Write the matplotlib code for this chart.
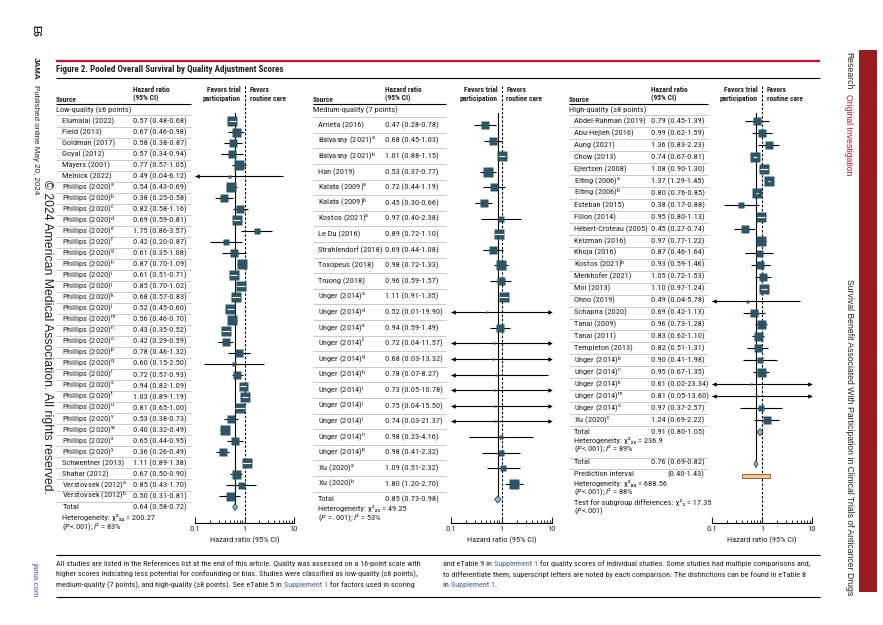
import matplotlib
matplotlib.use('Agg')
import matplotlib.pyplot as plt
import numpy as np
from matplotlib import font_manager
from matplotlib.patches import Rectangle, Polygon
from matplotlib.ticker import LogLocator, NullFormatter

# ---------- font choice: prefer a narrow / condensed sans ----------
ttf = font_manager.fontManager.ttflist
FONT, STRETCH = 'Liberation Sans', 'normal'
prefs = [('Liberation Sans Narrow', None), ('Roboto Condensed', None), ('Noto Sans', 'semi-condensed'),
         ('Noto Sans', 'condensed'), ('DejaVu Sans', 'condensed'), ('Open Sans', 'condensed'),
         ('Noto Sans Condensed', None), ('Open Sans Condensed', None)]
found = False
for nm, st in prefs:
    for f in ttf:
        if f.name == nm and (st is None or f.stretch == st) and f.style == 'normal':
            FONT, STRETCH = nm, (f.stretch if st is None else st)
            found = True
            break
    if found:
        break
SIDE_FONT = 'Liberation Sans'
plt.rcParams['font.family'] = [FONT, 'DejaVu Sans']
plt.rcParams['font.stretch'] = STRETCH
plt.rcParams['mathtext.fontset'] = 'custom'
plt.rcParams['mathtext.rm'] = FONT
plt.rcParams['mathtext.it'] = FONT + ':italic'
plt.rcParams['mathtext.bf'] = FONT + ':bold'


def S(letter):
    return r'$^{\mathrm{' + letter + '}}$'


SUBD = str.maketrans('0123456789', '\u2080\u2081\u2082\u2083\u2084\u2085\u2086\u2087\u2088\u2089')


def chi2(df):
    return '\u03c7\u00b2' + str(df).translate(SUBD)


# ---------------- data: low quality ----------------
low_sources = ['Elumalai (2022)', 'Field (2013)', 'Goldman (2017)', 'Goyal (2012)', 'Mayers (2001)',
               'Melnick (2022)'] + ['Phillips (2020)' + S(c) for c in 'abcdefghijklmnopqrstuvwxy'] + \
              ['Schwentner (2013)', 'Shahar (2012)', 'Verstovsek (2012)' + S('a'), 'Verstovsek (2012)' + S('b')]
low_hr = [0.57, 0.67, 0.58, 0.57, 0.77, 0.49, 0.54, 0.38, 0.82, 0.69, 1.75, 0.42, 0.61, 0.87, 0.61, 0.85,
          0.68, 0.52, 0.56, 0.43, 0.42, 0.78, 0.60, 0.72, 0.94, 1.03, 0.81, 0.53, 0.40, 0.65, 0.36,
          1.11, 0.67, 0.85, 0.50]
low_lo = [0.48, 0.46, 0.38, 0.34, 0.57, 0.04, 0.43, 0.25, 0.58, 0.59, 0.86, 0.20, 0.35, 0.70, 0.51, 0.70,
          0.57, 0.45, 0.46, 0.35, 0.29, 0.46, 0.15, 0.57, 0.82, 0.89, 0.65, 0.38, 0.32, 0.44, 0.26,
          0.89, 0.50, 0.43, 0.31]
low_hi = [0.68, 0.98, 0.87, 0.94, 1.05, 6.12, 0.69, 0.58, 1.16, 0.81, 3.57, 0.87, 1.08, 1.09, 0.71, 1.02,
          0.83, 0.60, 0.70, 0.52, 0.59, 1.32, 2.50, 0.93, 1.09, 1.19, 1.00, 0.73, 0.49, 0.95, 0.49,
          1.38, 0.90, 1.70, 0.81]
low_weight = [10, 9, 8.5, 8, 9.5, 3, 10, 8.5, 8.5, 10, 6.5, 6.5, 7.5, 9.5, 10, 9.5, 9.5, 9.5, 9.5, 9.5,
              8.5, 8, 4, 8.5, 9, 9.5, 10, 8.5, 9.5, 8, 8, 10, 9, 7, 9]
low_total = (0.64, 0.58, 0.72)
low_het = (34, '200.27', '<.001', 83)

# ---------------- data: medium quality ----------------
med_sources = ['Arrieta (2016)', 'Balyasny (2021)' + S('a'), 'Balyasny (2021)' + S('b'), 'Han (2019)',
               'Kalata (2009)' + S('a'), 'Kalata (2009)' + S('b'), 'Kostos (2021)' + S('a'), 'Le Du (2016)',
               'Strahlendorf (2018)', 'Toxopeus (2018)', 'Truong (2018)'] + \
              ['Unger (2014)' + S(c) for c in 'adefghijlnp'] + ['Xu (2020)' + S('a'), 'Xu (2020)' + S('b')]
med_hr = [0.47, 0.68, 1.01, 0.53, 0.72, 0.45, 0.97, 0.89, 0.69, 0.98, 0.96, 1.11, 0.52, 0.94, 0.72, 0.68,
          0.78, 0.73, 0.75, 0.74, 0.98, 0.98, 1.09, 1.80]
med_lo = [0.28, 0.45, 0.88, 0.37, 0.44, 0.30, 0.40, 0.72, 0.44, 0.72, 0.59, 0.91, 0.01, 0.59, 0.04, 0.03,
          0.07, 0.05, 0.04, 0.03, 0.23, 0.41, 0.51, 1.20]
med_hi = [0.78, 1.03, 1.15, 0.77, 1.19, 0.66, 2.38, 1.10, 1.08, 1.33, 1.57, 1.35, 19.90, 1.49, 11.57, 13.32,
          8.27, 10.78, 15.50, 21.37, 4.16, 2.32, 2.32, 2.70]
med_weight = [7.5, 8, 9.5, 9.5, 8.5, 8, 5.5, 9.5, 8, 9.5, 8.5, 10, 2, 8.5, 2.5, 2.5, 2.5, 2.5, 2.5, 2.5,
              5, 6, 6.5, 9.5]
med_total = (0.85, 0.73, 0.98)
med_het = (23, '49.25', ' = .001', 53)

# ---------------- data: high quality ----------------
high_sources = ['Abdel-Rahman (2019)', 'Abu-Hejleh (2016)', 'Aung (2021)', 'Chow (2013)', 'Ejlertsen (2008)',
                'Elting (2006)' + S('a'), 'Elting (2006)' + S('b'), 'Esteban (2015)', 'Filion (2014)',
                'Hébert-Croteau (2005)', 'Keizman (2016)', 'Khoja (2016)', 'Kostos (2021)' + S('b'),
                'Merkhofer (2021)', 'Mol (2013)', 'Ohno (2019)', 'Schapira (2020)', 'Tanai (2009)',
                'Tanai (2011)', 'Templeton (2013)'] + ['Unger (2014)' + S(c) for c in 'bckmo'] + \
               ['Xu (2020)' + S('c')]
high_hr = [0.79, 0.99, 1.36, 0.74, 1.08, 1.37, 0.80, 0.38, 0.95, 0.45, 0.97, 0.87, 0.93, 1.05, 1.10, 0.49,
           0.69, 0.96, 0.83, 0.82, 0.90, 0.95, 0.61, 0.81, 0.97, 1.24]
high_lo = [0.45, 0.62, 0.83, 0.67, 0.90, 1.29, 0.76, 0.17, 0.80, 0.27, 0.77, 0.46, 0.59, 0.72, 0.97, 0.04,
           0.42, 0.73, 0.62, 0.51, 0.41, 0.67, 0.02, 0.05, 0.37, 0.69]
high_hi = [1.39, 1.59, 2.23, 0.81, 1.30, 1.45, 0.85, 0.88, 1.13, 0.74, 1.22, 1.64, 1.46, 1.53, 1.24, 5.78,
           1.13, 1.28, 1.10, 1.31, 1.98, 1.35, 23.34, 13.60, 2.57, 2.22]
high_weight = [7.5, 8, 8, 9.5, 9.5, 9.5, 9.5, 6, 9.5, 7.5, 9.5, 7, 8, 8, 9.5, 3, 7.5, 9, 9, 8, 6.5, 9, 2,
               2, 6, 8]
high_total = (0.91, 0.80, 1.05)
high_het = (25, '236.9', '<.001', 89)
overall_total = (0.76, 0.69, 0.82)
pred_interval = (0.40, 1.43)
overall_het = (84, '688.56', '<.001', 88)
subgroup_test = (2, '17.35', '<.001')

# ---------------- figure ----------------
W, H = 883, 625
fig = plt.figure(figsize=(W / 100, H / 100), dpi=100)
bg = fig.add_axes([0, 0, 1, 1])
bg.set_xlim(0, W)
bg.set_ylim(H, 0)
bg.axis('off')
renderer = fig.canvas.get_renderer()


def tw(s, fs, **kw):
    t = bg.text(0, 0, s, fontsize=fs, **kw)
    w = t.get_window_extent(renderer=renderer).width
    t.remove()
    return w


def fit(s, target, base=6.0, **kw):
    return base * target / tw(s, base, **kw)


TXT = '#231f20'
SQ = '#2d5566'
DIA = '#a3b8c3'
RED = '#c8102e'
BLUE = '#3a5fa8'
FS = min(6.4, fit('0.57 (0.48-0.68)', 54), fit('Hébert-Croteau (2005)', 74))
FSB = min(FS, fit('Hazard ratio', 37, fontweight='bold'))
FS_TITLE = fit('Figure 2. Pooled Overall Survival by Quality Adjustment Scores', 226, 7, fontweight='bold')
FFS = fit('All studies are listed in the References list at the end of this article. Quality was assessed on a 16-point scale with', 364)


def txt(x, y, s, **kw):
    kw.setdefault('fontsize', FS)
    kw.setdefault('va', 'center')
    kw.setdefault('color', TXT)
    return bg.text(x, y, s, **kw)


def hline(y, x0, x1, color='black', lw=0.8):
    bg.plot([x0, x1], [y, y], color=color, lw=lw, solid_capstyle='butt')


AX_TOP, AX_BOT = 80, 523


def make_ax(x0, x1):
    ax = fig.add_axes([x0 / W, 1 - AX_BOT / H, (x1 - x0) / W, (AX_BOT - AX_TOP) / H])
    ax.set_xscale('log')
    ax.set_xlim(0.1, 10)
    ax.set_ylim(AX_BOT, AX_TOP)
    ax.patch.set_alpha(0)
    for s in ['top', 'right', 'left']:
        ax.spines[s].set_visible(False)
    ax.spines['bottom'].set_linewidth(0.8)
    ax.set_yticks([])
    ax.set_xticks([0.1, 1, 10])
    ax.set_xticklabels(['0.1', '1', '10'])
    ax.xaxis.set_minor_locator(LogLocator(base=10, subs=range(2, 10)))
    ax.xaxis.set_minor_formatter(NullFormatter())
    ax.tick_params(axis='x', which='major', direction='in', length=4, width=0.8, labelsize=FS, pad=2.5,
                   colors=TXT)
    ax.tick_params(axis='x', which='minor', direction='in', length=2.5, width=0.6)
    ax.set_xlabel('Hazard ratio (95% CI)', fontsize=FS, labelpad=3, color=TXT)
    return ax


def fmt(hr, lo, hi):
    return f'{hr:.2f} ({lo:.2f}-{hi:.2f})'


def diamond(ax, y, est, lo, hi, h=3.5):
    ax.add_patch(Polygon([[lo, y], [est, y - h], [hi, y], [est, y + h]], closed=True,
                         fc=DIA, ec=SQ, lw=0.7, zorder=5))


def panel(x_src, x_name, x_hr, x_sep, ax_x0, ax_x1, y0, dy, group, sources, hr, lo, hi, wt):
    ax = make_ax(ax_x0, ax_x1)
    dec = (ax_x1 - ax_x0) / 2.0
    one = ax_x0 + dec
    txt(x_src, 99, 'Source', fontweight='bold', fontsize=FSB)
    txt(x_hr, 89.5, 'Hazard ratio', fontweight='bold', fontsize=FSB)
    txt(x_hr, 98.5, '(95% CI)', fontweight='bold', fontsize=FSB)
    txt(one - 4, 89.5, 'Favors trial', fontweight='bold', ha='right', fontsize=FSB)
    txt(one - 4, 98.5, 'participation', fontweight='bold', ha='right', fontsize=FSB)
    txt(one + 5, 89.5, 'Favors', fontweight='bold', ha='left', fontsize=FSB)
    txt(one + 5, 98.5, 'routine care', fontweight='bold', ha='left', fontsize=FSB)
    hline(104, x_src, x_sep, lw=0.8)
    txt(x_src, 110.5, group)
    for i, (nm, e, l, u, w) in enumerate(zip(sources, hr, lo, hi, wt)):
        y = y0 + i * dy
        txt(x_name, y, nm)
        txt(x_hr, y, fmt(e, l, u))
        hline(y - dy / 2, x_src, x_sep, color='#b5b5b5', lw=0.5)
        a, b = max(l, 0.1), min(u, 10)
        ax.plot([a, b], [y, y], color='black', lw=0.8, zorder=2, solid_capstyle='butt')
        off = 10 ** (2.2 / dec)
        if l < 0.1:
            ax.plot(0.1 * off, y, marker='<', ms=3.2, color='black', mec='none', zorder=2, clip_on=False)
        if u > 10:
            ax.plot(10 / off, y, marker='>', ms=3.2, color='black', mec='none', zorder=2, clip_on=False)
        ax.plot(e, y, marker='s', ms=w * 0.72, color=SQ, mec='none', zorder=3)
        half = w / 2.0
        if np.log10(u / e) * dec < half and np.log10(e / l) * dec < half:
            ax.plot([l, u], [y, y], color='white', lw=0.8, zorder=4, solid_capstyle='butt')
    ytot = y0 + len(sources) * dy
    hline(ytot - dy / 2, x_src, x_sep, color='#b5b5b5', lw=0.5)
    return ax, ytot


def dashed(ax, y_top=86):
    ax.plot([1, 1], [y_top, AX_BOT], color='black', lw=0.8, ls=(0, (2.2, 1.6)), zorder=1)


def het_text(x, y, het, dy=9.5):
    df, chi, p, i2 = het
    txt(x, y, 'Heterogeneity: ' + chi2(df) + ' = ' + chi)
    txt(x, y + dy, r'($P$' + p + r'); $I$' + '\u00b2 = %d%%' % i2)


# ---- panel 1
ax1, yt1 = panel(56, 62.5, 133, 191, 195, 294, 121, 11.03, 'Low-quality (\u22646 points)',
                 low_sources, low_hr, low_lo, low_hi, low_weight)
txt(62.5, yt1, 'Total')
txt(133, yt1, fmt(*low_total))
diamond(ax1, yt1, *low_total)
ax1.plot([low_total[0]] * 2, [113, yt1 - 3.5], color='black', lw=0.8, zorder=1)
dashed(ax1)
het_text(62.5, yt1 + 10.5, low_het)

# ---- panel 2
ax2, yt2 = panel(313, 318, 385, 446, 451, 552, 125, 15.6, 'Medium-quality (7 points)',
                 med_sources, med_hr, med_lo, med_hi, med_weight)
txt(318, yt2, 'Total')
txt(385, yt2, fmt(*med_total))
diamond(ax2, yt2, *med_total)
ax2.plot([med_total[0]] * 2, [113, yt2 - 3.5], color='black', lw=0.8, zorder=1)
dashed(ax2)
het_text(318, yt2 + 9.5, med_het)

# ---- panel 3
ax3, yt3 = panel(569, 574, 651, 708, 712, 812, 121, 11.97, 'High-quality (\u22658 points)',
                 high_sources, high_hr, high_lo, high_hi, high_weight)
txt(574, yt3, 'Total')
txt(651, yt3, fmt(*high_total))
diamond(ax3, yt3, *high_total)
het_text(574, yt3 + 8.5, high_het, dy=9.0)
hline(457.5, 569, 708, color='#b5b5b5', lw=0.5)
y_all = 462.5
txt(574, y_all, 'Total')
txt(651, y_all, fmt(*overall_total))
diamond(ax3, y_all + 1.5, *overall_total)
hline(468.5, 569, 708, color='#b5b5b5', lw=0.5)
txt(574, 474, 'Prediction interval')
txt(704, 474, f'({pred_interval[0]:.2f}-{pred_interval[1]:.2f})', ha='right')
ax3.add_patch(Rectangle((pred_interval[0], 474.3), pred_interval[1] - pred_interval[0], 3.6,
                        fc='#f3c99b', ec='#9a5f2a', lw=0.7, zorder=5))
het_text(574, 483.5, overall_het, dy=9.0)
txt(574, 502, 'Test for subgroup differences: ' + chi2(subgroup_test[0]) + ' = ' + subgroup_test[1])
txt(574, 511, r'($P$' + subgroup_test[2] + ')')
ax3.plot([overall_total[0]] * 2, [113, y_all - 2], color='black', lw=0.8, zorder=1)
dashed(ax3)

# ---------------- page furniture ----------------
hline(61, 56, 820, color=RED, lw=1.6)
txt(56, 69.5, 'Figure 2. Pooled Overall Survival by Quality Adjustment Scores', fontsize=FS_TITLE,
    fontweight='bold')
hline(77.5, 56, 820, lw=0.8)

# footer
hline(555, 56, 820, lw=0.8)
hline(597, 56, 820, lw=0.8)


def width_prefix(s, fs):
    return tw(s + '|', fs) - tw('|', fs)


def rich(x, y, parts, fs):
    prefix = ''
    for s, c in parts:
        xx = x + (width_prefix(prefix, fs) if prefix else 0)
        bg.text(xx, y, s, fontsize=fs, color=c, va='baseline', ha='left')
        prefix += s


rich(56, 566, [('All studies are listed in the References list at the end of this article. Quality was assessed on a 16-point scale with', TXT)], FFS)
rich(56, 576.5, [('higher scores indicating less potential for confounding or bias. Studies were classified as low-quality (\u22646 points),', TXT)], FFS)
rich(56, 587, [('medium-quality (7 points), and high-quality (\u22658 points). See eTable 5 in ', TXT), ('Supplement 1', BLUE),
               (' for factors used in scoring', TXT)], FFS)
rich(443, 566, [('and eTable 9 in ', TXT), ('Supplement 1', BLUE),
                (' for quality scores of individual studies. Some studies had multiple comparisons and,', TXT)], FFS)
rich(443, 576.5, [('to differentiate them, superscript letters are noted by each comparison. The distinctions can be found in eTable 8', TXT)], FFS)
rich(443, 587, [('in ', TXT), ('Supplement 1', BLUE), ('.', TXT)], FFS)

# margins (rotated, reading top to bottom) in a regular-width sans
SK = dict(family=[SIDE_FONT, 'DejaVu Sans'], stretch='normal')
FS_SIDE = fit('Published online May 20, 2024', 112, **SK)
FS_COPY = fit('\u00a9 2024 American Medical Association. All rights reserved.', 318, **SK)
FS_R = fit('Survival Benefit Associated With Participation in Clinical Trials of Anticancer Drugs', 318, **SK)


def vtext(x, y, s, ha='left', **kw):
    kw.setdefault('color', TXT)
    bg.text(x, y, s, rotation=-90, rotation_mode='anchor', ha=ha, va='center', **SK, **kw)


vtext(35, 25, 'E6', fontsize=FS_SIDE * 1.2, fontweight='bold')
vtext(35, 57, 'JAMA', fontsize=FS_SIDE, fontweight='bold')
vtext(35, 57 + tw('JAMA', FS_SIDE, fontweight='bold', **SK) + 5, 'Published online May 20, 2024',
      fontsize=FS_SIDE)
vtext(47, 180, '\u00a9 2024 American Medical Association. All rights reserved.', fontsize=FS_COPY)
vtext(35, 562, 'jama.com', fontsize=FS_SIDE, color=BLUE)

bg.add_patch(Rectangle((859, 50), 18, 542, fc='#9b1c20', ec='none'))
vtext(849, 52, 'Research', fontsize=FS_R)
vtext(849, 52 + tw('Research', FS_R, **SK) + 5, 'Original Investigation', fontsize=FS_R, color=RED)
vtext(849, 595, 'Survival Benefit Associated With Participation in Clinical Trials of Anticancer Drugs',
      ha='right', fontsize=FS_R)

fig.savefig('out.png', dpi=100)
